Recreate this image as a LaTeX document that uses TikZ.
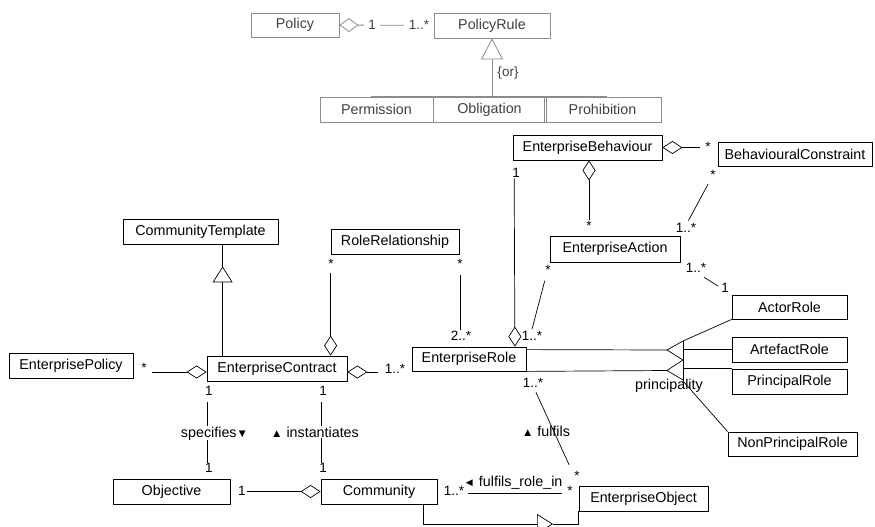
\documentclass[tikz,border=0pt]{standalone}
\usepackage{fontspec}
\setmainfont{Liberation Sans}
\usetikzlibrary{arrows.meta}
\begin{document}
\begin{tikzpicture}[x=1pt,y=-1pt,
  every node/.style={font=\fontsize{14.3}{16}\selectfont},
  cls/.style={draw, line width=0.8pt, inner sep=0pt},
  topcls/.style={cls, draw=black!45, text=black!75},
  topline/.style={draw=black!45, line width=0.8pt},
  conn/.style={line width=0.7pt},
  mult/.style={anchor=base, inner sep=0.5pt, font=\fontsize{13.5}{15}\selectfont},
  toplab/.style={mult, text=black!75},
  aggS/.style={{Diamond[open,length=20pt,width=13pt]}-},
  aggE/.style={-{Diamond[open,length=20pt,width=13pt]}}
]
\fill[white] (0,0) rectangle (875,527);
\useasboundingbox (0,0) rectangle (875,527);

% ---------- top part ----------
\node[topcls, minimum width=88pt, minimum height=24pt] (Policy) at (295,25) {Policy};
\node[topcls, minimum width=116pt, minimum height=25pt] (PolicyRule) at (492,25.5) {PolicyRule};
\node[topcls, minimum width=113pt, minimum height=25pt] (Permission) at (376.5,109.5) {Permission};
\node[topcls, minimum width=113pt, minimum height=25pt] (Obligation) at (489.5,109.5) {Obligation};
\node[topcls, minimum width=117pt, minimum height=25pt] (Prohibition) at (602.5,109.5) {Prohibition};

\draw[topline, {Diamond[open,length=19pt,width=14pt]}-] (Policy.east) -- (PolicyRule.west);
\node[toplab, fill=white, inner xsep=4pt] (m1) at (372,29.5) {1};
\node[toplab, fill=white, inner xsep=5pt] (m2) at (419,29.5) {1..*};

\coordinate (orj) at (PolicyRule.south |- 0,95);
\draw[topline, -{Triangle[open,length=21pt,width=22pt]}] (orj) -- (PolicyRule.south);
\draw[topline] (orj) -- (orj |- Obligation.north);
\draw[topline] ([xshift=-5.5pt]Permission.north) |- ([xshift=4.5pt]Prohibition.north);
\node[toplab] (orlab) at (508,77) {\{or\}};

% ---------- classes ----------
\node[cls, minimum width=149pt, minimum height=25pt] (EB) at (587.5,147.5) {EnterpriseBehaviour};
\node[cls, minimum width=154pt, minimum height=24pt] (BC) at (795,154) {BehaviouralConstraint};
\node[cls, minimum width=130pt, minimum height=26pt] (EA) at (615,249) {EnterpriseAction};
\node[cls, minimum width=155pt, minimum height=25pt] (CT) at (200.5,231.5) {CommunityTemplate};
\node[cls, minimum width=128pt, minimum height=25pt] (RR) at (395,241.5) {RoleRelationship};
\node[cls, minimum width=124pt, minimum height=25pt] (EP) at (71,365.5) {EnterprisePolicy};
\node[cls, minimum width=140pt, minimum height=25pt] (EC) at (277,368.5) {EnterpriseContract};
\node[cls, minimum width=114pt, minimum height=24pt] (ER) at (469,359) {EnterpriseRole};
\node[cls, minimum width=115pt, minimum height=24pt] (AR) at (789.5,307) {ActorRole};
\node[cls, minimum width=115pt, minimum height=25pt] (ArtR) at (789.5,349.5) {ArtefactRole};
\node[cls, minimum width=115pt, minimum height=25pt] (PR) at (789.5,381.5) {PrincipalRole};
\node[cls, minimum width=129pt, minimum height=24pt] (NPR) at (792.5,444) {NonPrincipalRole};
\node[cls, minimum width=117pt, minimum height=25pt] (Obj) at (171.5,491.5) {Objective};
\node[cls, minimum width=116pt, minimum height=25pt] (Com) at (379,491.5) {Community};
\node[cls, minimum width=129pt, minimum height=25pt] (EO) at (643.5,498.5) {EnterpriseObject};

% ---------- connectors ----------
% EnterpriseBehaviour - BehaviouralConstraint
\draw[conn, aggS, shorten >=18pt] (EB.east) -- (EB.east -| BC.west);
\node[mult] (l1) at (708,151.5) {*};
% EnterpriseBehaviour - EnterpriseAction
\coordinate (ebs) at ([xshift=1.5pt]EB.south);
\draw[conn, aggS, shorten >=16pt] (ebs) -- (ebs |- EA.north);
\node[mult] (l2) at (589,230) {*};
% BehaviouralConstraint - EnterpriseAction
\draw[conn, shorten <=20pt, shorten >=17pt] (BC.south west) -- (EA.north east);
\node[mult] (l3) at (713,179.5) {*};
\node[mult] (l4) at (686,232) {1..*};
% EnterpriseAction - EnterpriseRole
\coordinate (ert) at ([xshift=1pt]ER.north east);
\draw[conn, shorten <=19pt, shorten >=18pt] (EA.south west) -- (ert);
\node[mult] (l5) at (548,274) {*};
\node[mult] (l6) at (532,340) {1..*};
% EnterpriseAction - ActorRole
\draw[conn, shorten <=28pt, shorten >=16pt] (EA.south east) -- (AR.north west);
\node[mult] (l7) at (696,272) {1..*};
\node[mult] (l8) at (725,292) {1};
% EnterpriseBehaviour - EnterpriseRole
\coordinate (ebl) at ([xshift=1.5pt]EB.south west);
\coordinate (erd) at ([xshift=-11.5pt]ER.north east);
\draw[conn, aggE, shorten <=18pt] (ebl) -- (erd);
\node[mult] (l9) at (516,177) {1};
% RoleRelationship - EnterpriseContract
\coordinate (rrl) at (RR.south west);
\draw[conn, aggE, shorten <=19pt] (rrl) -- (rrl |- EC.north);
\node[mult] (l10) at (331,268) {*};
% RoleRelationship - EnterpriseRole
\coordinate (rrr) at ([xshift=1pt]RR.south east);
\draw[conn, shorten <=21pt, shorten >=17pt] (rrr) -- (rrr |- ER.north);
\node[mult] (l11) at (460,268) {*};
\node[mult] (l12) at (461,340) {2..*};
% CommunityTemplate - EnterpriseContract (generalisation)
\coordinate (ctg) at ([xshift=16pt]EC.north west);
\draw[conn] (ctg) -- (ctg |- CT.south);
\draw[conn, -{Triangle[length=16pt,width=20pt,fill=white]}, shorten >=22pt] (ctg) -- (ctg |- CT.south);
% EnterprisePolicy - EnterpriseContract
\coordinate (epc) at ([yshift=-3.5pt]EC.west);
\draw[conn, aggE, shorten <=19pt] (epc -| EP.east) -- (epc);
\node[mult] (l13) at (144,372.5) {*};
% EnterpriseContract - EnterpriseRole
\coordinate (ecr) at ([yshift=-3.5pt]EC.east);
\draw[conn, aggS, shorten >=34pt] (ecr) -- (ecr -| ER.west);
\node[mult] (l14) at (395,373) {1..*};
% EnterpriseContract - Objective
\coordinate (ecs) at ([xshift=1pt]EC.south west);
\draw[conn, shorten <=21pt, shorten >=16pt] (ecs) -- (ecs |- Obj.north);
\node[mult] (l15) at (209,395) {1};
\node[mult] (l16) at (209,472) {1};
\node[mult, fill=white, font=\fontsize{14.3}{16}\selectfont] (spec) at (214.5,437) {specifies{\fontsize{11.5}{12}\selectfont▼}};
% EnterpriseContract - Community
\coordinate (ecs2) at ([xshift=-26pt]EC.south east);
\draw[conn, shorten <=21pt, shorten >=16pt] (ecs2) -- (ecs2 |- Com.north);
\node[mult] (l17) at (323,395) {1};
\node[mult] (l18) at (323,472) {1};
\node[mult, fill=white, font=\fontsize{14.3}{16}\selectfont] (inst) at (315,437) {{\fontsize{11.5}{12}\selectfont▲} instantiates};
% Objective - Community
\draw[conn, aggE, shorten <=17pt] (Obj.east) -- (Com.west);
\node[mult] (l19) at (242,495) {1};
% Community - EnterpriseObject
\coordinate (cme) at ([yshift=-1.5pt]Com.east);
\draw[conn, shorten <=31pt, shorten >=17pt] (cme) -- (cme -| EO.west);
\node[mult] (l20) at (454,495) {1..*};
\node[mult, font=\fontsize{14.3}{16}\selectfont] (fri) at (513,486) {{\fontsize{11.5}{12}\selectfont◄} fulfils\_role\_in};
\node[mult] (l21) at (570,495) {*};
% EnterpriseRole - EnterpriseObject
\draw[conn, shorten <=23pt, shorten >=23pt] (ER.south east) -- (EO.north west);
\node[mult] (l22) at (533,387) {1..*};
\node[mult] (l23) at (577,480) {*};
\node[mult, font=\fontsize{14.3}{16}\selectfont] (ful) at (546,436.5) {{\fontsize{11.5}{12}\selectfont▲} fulfils};
% Community - EnterpriseObject (generalisation)
\coordinate (cmb) at ([xshift=-14pt]Com.south east);
\coordinate (gtip) at (553,524);
\draw[conn, -{Triangle[open,length=16pt,width=20pt]}] (cmb) |- (gtip);
\draw[conn] (gtip) -| (EO.south west);
% EnterpriseRole specialisations
\coordinate (ap1) at (667,350);
\coordinate (ap2) at (667,370.5);
\coordinate (b1) at (683,341);
\coordinate (b2) at (683,360);
\coordinate (b3) at (683,380);
\coordinate (b4) at (683,381);
\draw[conn] ([yshift=-3pt]ER.north east) -- (ap1);
\draw[conn] (ER.south east) -- (ap2);
\draw[conn] (b1) -- (ap1) -- (b2) -- (ap2) -- (b3);
\draw[conn] (b1) -- (b4);
\draw[conn] (b1) -- (AR.south west);
\draw[conn] (ArtR.west -| b1) -- (ArtR.west);
\draw[conn] (PR.north west -| b1) -- (PR.north west);
\draw[conn] (b4) -- (NPR.north west);
\node[mult, font=\fontsize{14.3}{16}\selectfont] (prin) at (669,389) {principality};
\end{tikzpicture}
\end{document}
